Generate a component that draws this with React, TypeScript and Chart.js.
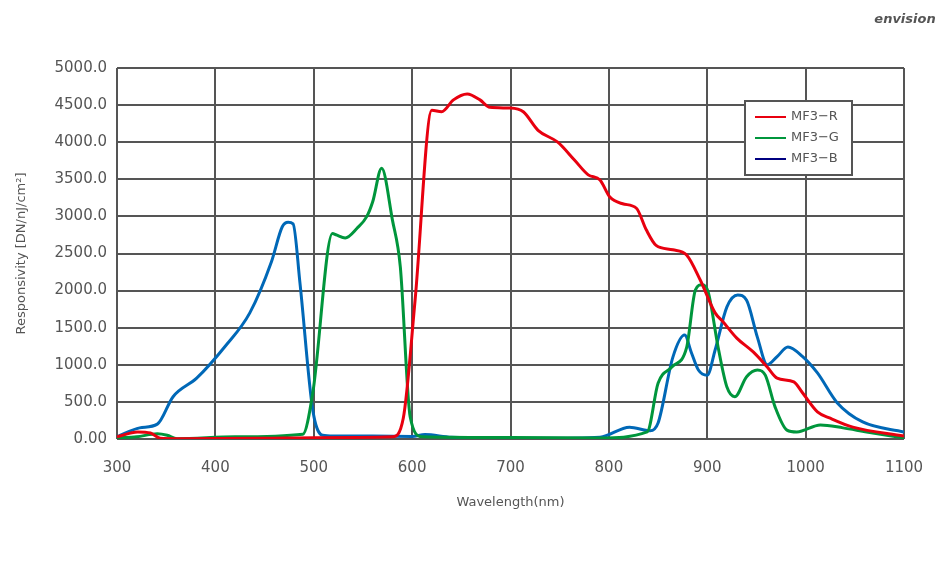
import { useRef, useEffect } from 'react';
import { Chart, registerables, Plugin } from 'chart.js';

Chart.register(...registerables);

// wavelength (nm) / responsivity pairs
const redX = [300, 321, 334, 344, 360, 450, 500, 580, 591, 603, 620, 630, 642, 656, 669, 679, 700, 713, 728, 748, 765, 779, 791, 801, 814, 828, 838, 848, 865, 879, 893, 908, 916, 930, 947, 961, 971, 988, 997, 1012, 1025, 1048, 1100];
const redY = [30, 95, 80, 10, 5, 10, 18, 30, 280, 1870, 4430, 4410, 4570, 4650, 4570, 4470, 4460, 4410, 4160, 4000, 3760, 3560, 3490, 3260, 3170, 3110, 2820, 2610, 2550, 2480, 2140, 1700, 1580, 1360, 1170, 970, 820, 770, 620, 365, 280, 160, 40];

const greenX = [300, 320, 341, 351, 361, 420, 489, 499, 519, 523, 532, 544, 554, 560, 569, 580, 588, 598, 610, 700, 791, 839, 850, 864, 879, 888, 895, 901, 911, 920, 928, 940, 951, 959, 969, 981, 991, 1015, 1038, 1062, 1100];
const greenY = [15, 30, 70, 50, 5, 30, 65, 620, 2770, 2750, 2710, 2840, 3000, 3200, 3650, 2950, 2320, 300, 30, 20, 15, 95, 750, 970, 1230, 2010, 2080, 1980, 1240, 700, 570, 840, 930, 860, 430, 120, 95, 190, 150, 95, 15];

const blueX = [300, 323, 341, 357, 381, 410, 435, 457, 468, 474, 479, 486, 499, 509, 520, 560, 600, 613, 640, 730, 791, 821, 842, 850, 865, 877, 884, 891, 900, 908, 920, 931, 940, 951, 961, 971, 982, 997, 1012, 1032, 1058, 1100];
const blueY = [30, 150, 200, 570, 820, 1250, 1700, 2390, 2860, 2920, 2900, 2100, 390, 50, 40, 40, 35, 60, 25, 10, 25, 160, 110, 215, 1100, 1400, 1160, 930, 860, 1200, 1780, 1940, 1870, 1370, 1000, 1110, 1240, 1110, 890, 490, 230, 95];

const seriesNames = ['MF3\u2212R', 'MF3\u2212G', 'MF3\u2212B'];
const lineColors = ['#e8000f', '#00963c', '#0068b7'];
const legendColors = ['#e8000f', '#00963c', '#000080'];

const xTicks = [300, 400, 500, 600, 700, 800, 900, 1000, 1100];

const FONT = '"DejaVu Sans", "Noto Sans", sans-serif';
const TEXT = '#555555';
const GRID = '#555555';

const toPoints = (xs: number[], ys: number[]) => xs.map((x, i) => ({ x, y: ys[i] }));

const legendBox: Plugin<'line'> = {
  id: 'legendBox',
  afterDraw(chart) {
    const { ctx } = chart;
    const left = 745;
    const top = 101;
    const w = 107;
    const h = 74;
    ctx.save();
    ctx.fillStyle = '#ffffff';
    ctx.fillRect(left, top, w, h);
    ctx.strokeStyle = GRID;
    ctx.lineWidth = 2;
    ctx.strokeRect(left, top, w, h);
    ctx.font = `13px ${FONT}`;
    ctx.textBaseline = 'middle';
    seriesNames.forEach((name, i) => {
      const y = top + 16 + i * 21;
      ctx.strokeStyle = legendColors[i];
      ctx.lineWidth = 2;
      ctx.beginPath();
      ctx.moveTo(left + 10, y);
      ctx.lineTo(left + 41, y);
      ctx.stroke();
      ctx.fillStyle = TEXT;
      ctx.fillText(name, left + 46, y);
    });
    // brand mark in the top right corner
    ctx.font = `italic bold 13px ${FONT}`;
    ctx.fillStyle = '#555555';
    ctx.textAlign = 'center';
    ctx.fillText('envision', 905, 20);
    ctx.restore();
  },
};

function ResponsivityChart() {
  const canvasRef = useRef<HTMLCanvasElement>(null);
  const chartRef = useRef<Chart | null>(null);

  useEffect(() => {
    if (!canvasRef.current) return;
    if (chartRef.current) chartRef.current.destroy();

    const xs = [redX, greenX, blueX];
    const ys = [redY, greenY, blueY];

    chartRef.current = new Chart(canvasRef.current, {
      type: 'line',
      data: {
        datasets: seriesNames.map((name, i) => ({
          label: name,
          data: toPoints(xs[i], ys[i]),
          borderColor: lineColors[i],
          borderWidth: 3,
          pointRadius: 0,
          cubicInterpolationMode: 'monotone' as const,
          fill: false,
        })),
      },
      options: {
        responsive: true,
        maintainAspectRatio: false,
        animation: false,
        layout: { padding: { top: 68, right: 36, left: 0, bottom: 0 } },
        plugins: {
          legend: { display: false },
          tooltip: { enabled: false },
        },
        scales: {
          x: {
            type: 'linear',
            min: 300,
            max: 1100,
            afterBuildTicks: (scale) => {
              scale.ticks = xTicks.map((value) => ({ value }));
            },
            afterFit: (scale) => {
              scale.height = 575 - 439;
              scale.paddingRight = 0;
              scale.paddingLeft = 0;
            },
            border: { display: false },
            grid: { color: GRID, lineWidth: 2, drawTicks: false },
            ticks: {
              color: TEXT,
              font: { family: FONT, size: 15 },
              padding: 20,
              maxRotation: 0,
              callback: (v) => String(v),
            },
            title: {
              display: true,
              text: 'Wavelength(nm)',
              color: TEXT,
              font: { family: FONT, size: 13 },
              padding: { top: 0, bottom: 65 },
            },
          },
          y: {
            min: 0,
            max: 5000,
            afterFit: (scale) => {
              scale.width = 117;
            },
            border: { display: false },
            grid: { color: GRID, lineWidth: 2, drawTicks: false },
            ticks: {
              stepSize: 500,
              color: TEXT,
              font: { family: FONT, size: 15 },
              padding: 10,
              callback: (v) => (Number(v) === 0 ? '0.00' : Number(v).toFixed(1)),
            },
            title: {
              display: true,
              text: 'Responsivity [DN/nJ/cm\u00B2]',
              color: TEXT,
              font: { family: FONT, size: 13 },
              padding: { top: 14, bottom: 0 },
            },
          },
        },
      },
      plugins: [legendBox],
    });

    return () => {
      if (chartRef.current) {
        chartRef.current.destroy();
        chartRef.current = null;
      }
    };
  }, []);

  return (
    <div style={{ position: 'fixed', left: 0, top: 0, width: 940, height: 575, background: '#fff' }}>
      <canvas ref={canvasRef} />
    </div>
  );
}

export default function App() {
  return <ResponsivityChart />;
}
